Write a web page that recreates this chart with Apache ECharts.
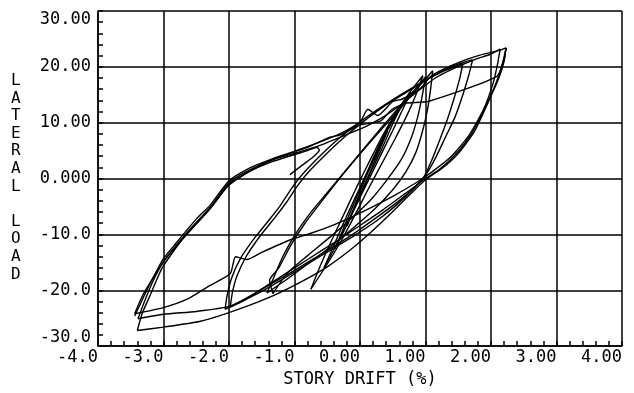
<!DOCTYPE html>
<html>
<head>
<meta charset="utf-8">
<script src="https://cdn.jsdelivr.net/npm/echarts@6/dist/echarts.min.js"></script>
<style>
html, body { margin: 0; padding: 0; background: #fff; }
#chart { width: 634px; height: 393px; }
</style>
</head>
<body>
<div id="chart"></div>
<script>
// tick labels as printed on the plot
const driftLabels = ['-4.0', '-3.0', '-2.0', '-1.0', '0.00', '1.00', '2.00', '3.00', '4.00']
const loadLabels = ['-30.0', '-20.0', '-10.0', '0.000', '10.00', '20.00', '30.00']

// hysteresis branches, [story drift %, lateral load]
const up1 = [[-3.44, -24.6], [-3.32, -21.6], [-3.21, -18.9], [-3.01, -14.5], [-2.84, -12.0], [-2.67, -9.6], [-2.48, -7.0], [-2.29, -4.8], [-2.0, -0.4], [-1.68, 1.9], [-1.37, 3.4], [-1.07, 4.6], [-0.69, 6.2], [-0.31, 8.0], [0.0, 10.1], [0.12, 12.4], [0.27, 11.3], [0.5, 13.8], [0.64, 14.2], [0.92, 16.1], [1.07, 18.2], [1.22, 19.3], [1.53, 20.9], [1.83, 22.1], [2.14, 23.0], [2.23, 23.4]]
const down1 = [[2.23, 23.4], [2.2, 21.0], [2.12, 18.0], [1.97, 14.0], [1.75, 8.5], [1.5, 4.5], [1.25, 1.8], [1.0, -0.2], [0.75, -3.0], [0.45, -6.5], [0.15, -9.8], [-0.15, -12.8], [-0.5, -15.8], [-0.95, -18.8], [-1.45, -21.6], [-2.0, -24.0], [-2.45, -25.6], [-3.0, -26.6], [-3.4, -27.2]]
const upLast = [[-3.4, -27.2], [-3.32, -24.0], [-3.2, -20.8], [-3.02, -16.0], [-2.72, -11.0], [-2.32, -5.8], [-2.02, -1.4], [-1.7, 1.2], [-1.35, 3.0], [-1.0, 4.3], [-0.8, 5.0], [-0.66, 5.6], [-0.62, 5.1], [-0.72, 3.8], [-0.87, 2.5], [-1.07, 0.7]]
const down2 = [[2.14, 23.2], [2.1, 20.5], [2.03, 17.0], [1.88, 12.2], [1.65, 7.5], [1.38, 3.8], [1.1, 1.2], [0.85, -0.8], [0.5, -3.2], [0.1, -5.6], [-0.4, -8.3], [-0.75, -9.8], [-1.07, -11.0], [-1.5, -13.2], [-1.73, -14.5], [-1.9, -14.0], [-1.98, -17.0], [-2.3, -19.2], [-2.64, -21.6], [-3.0, -23.1], [-3.44, -24.2]]
const up2 = [[-3.44, -24.2], [-3.33, -21.2], [-3.18, -18.2], [-2.98, -14.6], [-2.64, -9.9], [-2.26, -5.0], [-1.98, -0.8], [-1.65, 1.5], [-1.27, 3.7], [-0.8, 5.6], [-0.46, 7.4], [-0.31, 7.8], [0.0, 9.6], [0.31, 10.3], [0.49, 12.4], [0.7, 13.5], [1.04, 13.8], [2.09, 18.3], [2.2, 21.5], [2.23, 23.4]]
const down3 = [[2.23, 23.4], [2.18, 20.8], [2.08, 17.2], [1.92, 13.0], [1.7, 8.0], [1.45, 4.2], [1.2, 1.5], [1.0, 0.0], [0.7, -2.6], [0.35, -5.6], [0.0, -8.4], [-0.4, -11.5], [-0.8, -14.5], [-1.2, -17.5], [-1.6, -20.5], [-2.0, -22.9], [-2.5, -23.8], [-3.0, -24.3], [-3.39, -25.1]]
const up3 = [[-3.39, -25.1], [-3.29, -22.0], [-3.17, -18.6], [-2.99, -14.7], [-2.65, -9.8], [-2.27, -4.9], [-1.99, -0.6], [-1.66, 1.7], [-1.3, 3.5], [-1.0, 4.5], [-0.6, 6.0], [-0.2, 7.9], [0.1, 9.4], [0.35, 11.0], [0.6, 13.0], [0.9, 15.8], [1.15, 18.0], [1.45, 19.8], [1.75, 21.3], [2.0, 22.3], [2.14, 23.2]]

const upB1 = [[-2.06, -23.4], [-2.03, -21.0], [-1.96, -17.8], [-1.82, -14.2], [-1.6, -10.5], [-1.4, -7.6], [-1.22, -4.9], [-1.07, -2.2], [-0.92, 0.2], [-0.65, 3.6], [-0.35, 6.9], [-0.05, 9.7], [0.25, 12.2], [0.55, 14.5], [0.85, 16.6], [1.15, 18.6], [1.45, 20.3], [1.72, 21.3]]
const downB1 = [[1.72, 21.3], [1.66, 18.5], [1.57, 15.0], [1.45, 11.0], [1.3, 7.3], [1.15, 3.6], [1.0, 0.6], [0.82, -1.8], [0.55, -4.4], [0.25, -7.0], [-0.05, -9.5], [-0.35, -11.8], [-0.7, -14.3], [-1.05, -16.8], [-1.45, -19.5], [-1.8, -22.0], [-2.06, -23.4]]
const upB2 = [[-1.98, -23.0], [-1.95, -20.5], [-1.88, -17.5], [-1.74, -14.0], [-1.52, -10.2], [-1.3, -7.0], [-1.12, -4.2], [-0.96, -1.4], [-0.8, 1.0], [-0.55, 4.0], [-0.25, 7.3], [0.05, 10.2], [0.35, 12.8], [0.65, 15.0], [0.95, 17.2], [1.25, 19.1], [1.57, 20.6]]
const downB2 = [[1.57, 20.6], [1.52, 17.8], [1.44, 14.5], [1.34, 10.8], [1.22, 7.0], [1.1, 3.4], [0.98, 0.4], [0.8, -2.0], [0.55, -4.8], [0.25, -7.6], [-0.1, -10.3], [-0.45, -12.8], [-0.8, -15.3], [-1.15, -17.8], [-1.5, -20.2], [-1.98, -23.0]]

const upC = [[-1.42, -20.5], [-1.32, -17.8], [-1.18, -14.0], [-1.0, -10.2], [-0.78, -6.5], [-0.52, -2.8], [-0.22, 1.4], [0.08, 5.5], [0.38, 9.5], [0.66, 13.2], [0.9, 16.5], [1.11, 19.3]]
const downC = [[1.11, 19.3], [1.08, 16.2], [1.03, 12.3], [0.95, 8.3], [0.85, 4.6], [0.7, 1.2], [0.5, -2.0], [0.22, -5.5], [-0.1, -8.8], [-0.45, -12.2], [-0.8, -15.3], [-1.1, -17.9], [-1.42, -20.5]]
const upE = [[-1.33, -20.6], [-1.38, -18.2], [-1.24, -16.0], [-1.06, -12.0], [-0.84, -8.0], [-0.58, -4.0], [-0.28, 0.5], [0.02, 4.8], [0.32, 9.0], [0.6, 12.8], [0.84, 16.0], [1.0, 18.2]]
const downE = [[1.0, 18.2], [0.95, 14.8], [0.88, 11.0], [0.78, 7.2], [0.64, 3.6], [0.44, 0.2], [0.18, -3.6], [-0.12, -7.0], [-0.45, -10.4], [-0.8, -13.8], [-1.1, -16.8], [-1.33, -20.6]]

const upD1 = [[-0.75, -19.8], [-0.62, -16.0], [-0.45, -11.5], [-0.25, -6.5], [-0.05, -1.5], [0.15, 3.2], [0.35, 7.8], [0.55, 11.8], [0.75, 15.3], [0.96, 18.4]]
const downD1 = [[0.96, 18.4], [0.86, 15.2], [0.72, 11.4], [0.53, 7.0], [0.33, 2.6], [0.12, -2.0], [-0.08, -6.6], [-0.28, -11.0], [-0.5, -15.3], [-0.75, -19.8]]
const upD2 = [[-0.55, -16.0], [-0.4, -12.0], [-0.2, -6.6], [0.0, -1.6], [0.2, 3.4], [0.4, 8.2], [0.6, 12.2], [0.78, 15.5]]
const downD2 = [[0.78, 15.5], [0.66, 12.6], [0.5, 8.6], [0.3, 3.8], [0.1, -1.0], [-0.1, -5.8], [-0.3, -10.6], [-0.55, -16.0]]
const upD3 = [[-0.38, -12.5], [-0.22, -8.0], [-0.05, -3.3], [0.12, 1.4], [0.3, 6.2], [0.5, 10.6], [0.62, 12.8]]
const downD3 = [[0.62, 12.8], [0.5, 9.8], [0.34, 5.5], [0.16, 1.0], [-0.02, -3.6], [-0.2, -8.2], [-0.38, -12.5]]
const upD4 = [[-0.2, -8.5], [-0.05, -4.0], [0.1, 0.5], [0.28, 5.0], [0.42, 8.5]]
const downD4 = [[0.42, 8.5], [0.25, 3.8], [0.08, -0.8], [-0.08, -5.0], [-0.2, -8.5]]

const branches = [up1, down1, upLast, down2, up2, down3, up3, upB1, downB1, upB2, downB2, upC, downC, upE, downE,
    upD1, downD1, upD2, downD2, upD3, downD3, upD4, downD4]

const monoFont = '"DejaVu Sans Mono", "Liberation Mono", monospace'

const myChart = echarts.init(document.getElementById('chart'))
myChart.setOption({
    animation: false,
    backgroundColor: '#fff',
    grid: { left: 98, right: 12, top: 11, bottom: 43 },
    graphic: [{
        type: 'text',
        left: 11,
        top: 72,
        style: {
            text: 'L\nA\nT\nE\nR\nA\nL\n\nL\nO\nA\nD',
            font: '16px ' + monoFont,
            fill: '#000',
            lineHeight: 17.6,
            align: 'center'
        }
    }],
    xAxis: {
        type: 'value',
        min: -4,
        max: 4,
        interval: 1,
        name: 'STORY DRIFT (%)',
        nameLocation: 'middle',
        nameGap: 18,
        nameTextStyle: { color: '#000', fontFamily: monoFont, fontSize: 17 },
        axisLine: { onZero: false, lineStyle: { color: '#000', width: 1.5 } },
        axisTick: { inside: true, length: 5, lineStyle: { color: '#000', width: 1.5 } },
        minorTick: { show: true, splitNumber: 5, length: 5, lineStyle: { color: '#000', width: 1.5 } },
        splitLine: { show: true, lineStyle: { color: '#000', width: 1.5 } },
        axisLabel: {
            color: '#000',
            fontFamily: monoFont,
            fontSize: 17,
            align: 'right',
            margin: 3,
            formatter: v => driftLabels[Math.round(v + 4)]
        }
    },
    yAxis: {
        type: 'value',
        min: -30,
        max: 30,
        interval: 10,
        axisLine: { onZero: false, lineStyle: { color: '#000', width: 1.5 } },
        axisTick: { inside: true, length: 5, lineStyle: { color: '#000', width: 1.5 } },
        minorTick: { show: true, splitNumber: 5, length: 5, lineStyle: { color: '#000', width: 1.5 } },
        splitLine: { show: true, lineStyle: { color: '#000', width: 1.5 } },
        axisLabel: {
            color: '#000',
            fontFamily: monoFont,
            fontSize: 17,
            margin: 7,
            verticalAlignMaxLabel: 'top',
            verticalAlignMinLabel: 'bottom',
            formatter: v => loadLabels[Math.round((v + 30) / 10)]
        }
    },
    series: branches.map(data => ({
        type: 'line',
        data: data,
        symbol: 'none',
        smooth: 0.2,
        lineStyle: { color: '#000', width: 1.4 }
    }))
})
</script>
</body>
</html>
